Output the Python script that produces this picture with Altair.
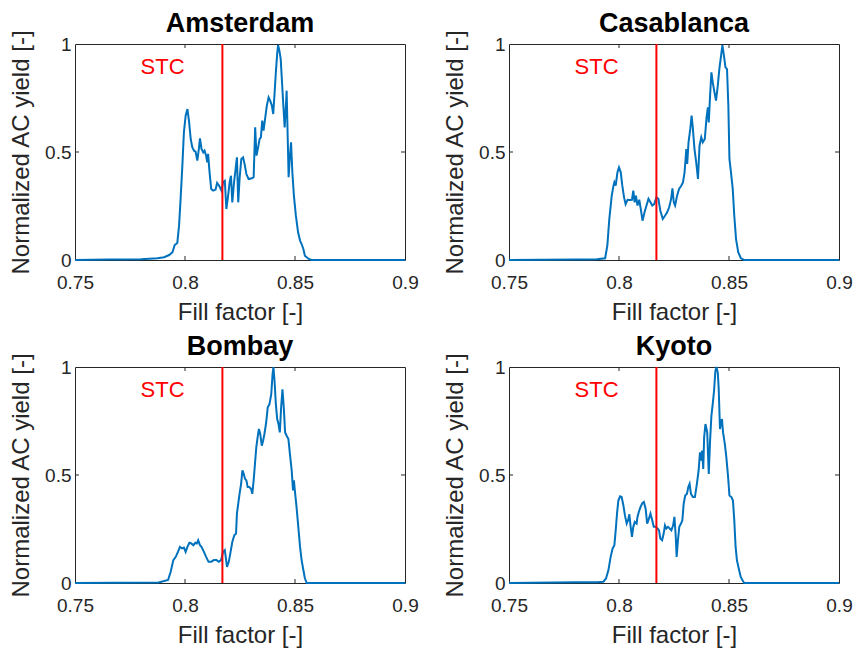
import altair as alt
import pandas as pd

cities = ["Amsterdam", "Casablanca", "Bombay", "Kyoto"]
stc_fill_factor = 0.817
x_ticks = [0.75, 0.8, 0.85, 0.9]
y_ticks = [0, 0.5, 1]
stc_label = "STC"

ams_x = [0.75, 0.765, 0.78, 0.7875, 0.7905, 0.7928, 0.7943, 0.7953, 0.7965, 0.7973, 0.7980, 0.7988, 0.7995,
         0.8003, 0.8011, 0.8018, 0.8026, 0.8033, 0.8041, 0.8048, 0.8056, 0.8063, 0.8068, 0.8075, 0.8083,
         0.8089, 0.8096, 0.8101, 0.8105, 0.8111, 0.8119, 0.8128, 0.8139, 0.8146, 0.8155, 0.8166, 0.8173,
         0.8181, 0.8188, 0.8196, 0.8203, 0.8209, 0.8215, 0.8223, 0.8230, 0.8236, 0.8242, 0.8248, 0.8256,
         0.8264, 0.8271, 0.8279, 0.8289, 0.8304, 0.8312, 0.8319, 0.8325, 0.8331, 0.8339, 0.8345, 0.8351,
         0.8357, 0.8364, 0.8372, 0.8380, 0.8387, 0.8395, 0.8401, 0.8407, 0.8413, 0.8419, 0.8423, 0.8429,
         0.8435, 0.8441, 0.8447, 0.8453, 0.8458, 0.8462, 0.8467, 0.8471, 0.8476, 0.8482, 0.8488, 0.8495,
         0.8504, 0.8514, 0.8523, 0.8530, 0.8538, 0.8545, 0.8553, 0.8563, 0.8575, 0.9]
ams_y = [0.0, 0.002, 0.004, 0.008, 0.013, 0.023, 0.036, 0.069, 0.079, 0.159, 0.283, 0.437, 0.591,
         0.668, 0.699, 0.645, 0.560, 0.522, 0.506, 0.502, 0.460, 0.514, 0.563, 0.514, 0.498,
         0.506, 0.483, 0.452, 0.491, 0.414, 0.329, 0.321, 0.326, 0.357, 0.344, 0.321, 0.360,
         0.367, 0.236, 0.298, 0.360, 0.390, 0.267, 0.360, 0.421, 0.475, 0.267, 0.375, 0.468,
         0.475, 0.444, 0.398, 0.375, 0.378, 0.383, 0.614, 0.483, 0.514, 0.560, 0.568, 0.645,
         0.599, 0.653, 0.715, 0.753, 0.738, 0.715, 0.676, 0.769, 0.869, 0.954, 0.995, 0.969,
         0.931, 0.823, 0.715, 0.614, 0.699, 0.784, 0.560, 0.383, 0.468, 0.545, 0.406, 0.298,
         0.205, 0.128, 0.090, 0.074, 0.051, 0.020, 0.013, 0.005, 0.0, 0.0]

cas_x = [0.75, 0.78, 0.79, 0.7937, 0.7947, 0.7956, 0.7967, 0.7975, 0.7979, 0.7985, 0.7993, 0.8000, 0.8008,
         0.8015, 0.8023, 0.8030, 0.8039, 0.8050, 0.8059, 0.8065, 0.8071, 0.8077, 0.8084, 0.8092, 0.8099,
         0.8107, 0.8116, 0.8125, 0.8134, 0.8143, 0.8151, 0.8160, 0.8170, 0.8179, 0.8188, 0.8199, 0.8209,
         0.8219, 0.8228, 0.8237, 0.8243, 0.8249, 0.8255, 0.8264, 0.8273, 0.8283, 0.8291, 0.8298, 0.8306,
         0.8310, 0.8316, 0.8324, 0.8330, 0.8336, 0.8343, 0.8351, 0.8359, 0.8366, 0.8374, 0.8381, 0.8390,
         0.8398, 0.8404, 0.8408, 0.8414, 0.8420, 0.8426, 0.8434, 0.8441, 0.8449, 0.8456, 0.8464, 0.8470,
         0.8477, 0.8484, 0.8491, 0.8497, 0.8502, 0.8509, 0.8517, 0.8524, 0.8532, 0.8542, 0.8554, 0.8569, 0.9]
cas_y = [0.0, 0.002, 0.003, 0.008, 0.067, 0.190, 0.298, 0.344, 0.360, 0.344, 0.406, 0.429, 0.406,
         0.344, 0.290, 0.259, 0.279, 0.278, 0.279, 0.321, 0.267, 0.298, 0.252, 0.279, 0.236,
         0.182, 0.221, 0.252, 0.283, 0.267, 0.252, 0.259, 0.290, 0.283, 0.228, 0.190, 0.205,
         0.221, 0.244, 0.283, 0.332, 0.267, 0.252, 0.298, 0.329, 0.344, 0.360, 0.406, 0.514,
         0.445, 0.545, 0.607, 0.668, 0.607, 0.514, 0.452, 0.375, 0.529, 0.568, 0.545, 0.560,
         0.660, 0.707, 0.637, 0.761, 0.869, 0.823, 0.776, 0.738, 0.807, 0.884, 0.946, 0.995,
         0.946, 0.892, 0.884, 0.715, 0.468, 0.406, 0.329, 0.205, 0.097, 0.036, 0.008, 0.0, 0.0]

bom_x = [0.75, 0.788, 0.7923, 0.7935, 0.7947, 0.7958, 0.7968, 0.7977, 0.7986, 0.7995, 0.8003, 0.8011,
         0.8020, 0.8029, 0.8038, 0.8047, 0.8054, 0.8060, 0.8068, 0.8075, 0.8086, 0.8096, 0.8107, 0.8119,
         0.8131, 0.8143, 0.8154, 0.8164, 0.8173, 0.8181, 0.8185, 0.8191, 0.8199, 0.8206, 0.8215, 0.8224,
         0.8232, 0.8236, 0.8242, 0.8248, 0.8255, 0.8261, 0.8267, 0.8273, 0.8279, 0.8285, 0.8292, 0.8300,
         0.8306, 0.8312, 0.8318, 0.8324, 0.8330, 0.8336, 0.8342, 0.8349, 0.8355, 0.8361, 0.8369, 0.8376,
         0.8384, 0.8392, 0.8398, 0.8402, 0.8407, 0.8413, 0.8419, 0.8425, 0.8431, 0.8437, 0.8443, 0.8449,
         0.8455, 0.8462, 0.8470, 0.8477, 0.8485, 0.8491, 0.8495, 0.8500, 0.8507, 0.8515, 0.8523, 0.8530,
         0.8538, 0.8545, 0.8553, 0.9]
bom_y = [0.0, 0.002, 0.014, 0.052, 0.106, 0.121, 0.144, 0.167, 0.160, 0.164, 0.144, 0.167,
         0.186, 0.183, 0.175, 0.186, 0.183, 0.198, 0.175, 0.167, 0.144, 0.121, 0.098, 0.098,
         0.106, 0.106, 0.098, 0.106, 0.144, 0.152, 0.121, 0.075, 0.098, 0.137, 0.190, 0.221,
         0.229, 0.321, 0.367, 0.413, 0.459, 0.521, 0.505, 0.482, 0.475, 0.444, 0.444, 0.436,
         0.413, 0.475, 0.551, 0.628, 0.674, 0.713, 0.690, 0.636, 0.659, 0.690, 0.743, 0.813,
         0.828, 0.874, 0.966, 1.0, 0.935, 0.828, 0.759, 0.736, 0.697, 0.813, 0.897, 0.813,
         0.697, 0.682, 0.667, 0.597, 0.521, 0.429, 0.475, 0.421, 0.352, 0.260, 0.167, 0.106,
         0.060, 0.022, 0.0, 0.0]

kyo_x = [0.75, 0.78, 0.79, 0.7929, 0.7941, 0.7952, 0.7962, 0.7971, 0.7979, 0.7985, 0.7991, 0.7997, 0.8005,
         0.8012, 0.8020, 0.8027, 0.8035, 0.8042, 0.8047, 0.8053, 0.8059, 0.8065, 0.8072, 0.8080, 0.8084,
         0.8090, 0.8098, 0.8106, 0.8113, 0.8121, 0.8128, 0.8136, 0.8143, 0.8151, 0.8158, 0.8167, 0.8176,
         0.8182, 0.8188, 0.8196, 0.8203, 0.8209, 0.8215, 0.8223, 0.8231, 0.8238, 0.8246, 0.8252, 0.8258,
         0.8262, 0.8268, 0.8274, 0.8282, 0.8288, 0.8294, 0.8301, 0.8309, 0.8315, 0.8321, 0.8327, 0.8336,
         0.8345, 0.8354, 0.8362, 0.8368, 0.8372, 0.8378, 0.8383, 0.8387, 0.8393, 0.8401, 0.8408, 0.8414,
         0.8420, 0.8426, 0.8432, 0.8438, 0.8443, 0.8449, 0.8453, 0.8459, 0.8464, 0.8468, 0.8473, 0.8481,
         0.8488, 0.8496, 0.8502, 0.8511, 0.8518, 0.8524, 0.8530, 0.8536, 0.8544, 0.8553, 0.8562, 0.8569, 0.9]
kyo_y = [0.0, 0.003, 0.004, 0.006, 0.021, 0.060, 0.121, 0.160, 0.175, 0.244, 0.321, 0.382, 0.401,
         0.398, 0.359, 0.313, 0.275, 0.293, 0.318, 0.260, 0.214, 0.260, 0.283, 0.275, 0.306,
         0.329, 0.352, 0.370, 0.375, 0.344, 0.275, 0.298, 0.321, 0.290, 0.260, 0.260, 0.252,
         0.244, 0.206, 0.198, 0.229, 0.267, 0.252, 0.260, 0.252, 0.244, 0.267, 0.306, 0.214,
         0.121, 0.198, 0.260, 0.275, 0.290, 0.367, 0.405, 0.413, 0.444, 0.459, 0.413, 0.398,
         0.398, 0.459, 0.521, 0.605, 0.567, 0.613, 0.528, 0.674, 0.736, 0.697, 0.505, 0.659,
         0.774, 0.828, 0.889, 0.981, 1.0, 0.974, 0.905, 0.713, 0.743, 0.759, 0.697, 0.644,
         0.582, 0.490, 0.405, 0.398, 0.382, 0.290, 0.167, 0.106, 0.068, 0.029, 0.011, 0.0, 0.0]

series = {
    "Amsterdam": (ams_x, ams_y),
    "Casablanca": (cas_x, cas_y),
    "Bombay": (bom_x, bom_y),
    "Kyoto": (kyo_x, kyo_y),
}

W, H = 330, 216
FONT = "Liberation Sans"
AX = "#262626"


def panel(name):
    xs, ys = series[name]
    df = pd.DataFrame({"x": xs, "y": ys})
    xsc = alt.Scale(domain=[0.75, 0.9], nice=False, zero=False)
    ysc = alt.Scale(domain=[0, 1], nice=False, zero=False)
    line = alt.Chart(df).mark_line(color="#0072BD", strokeWidth=2).encode(
        x=alt.X("x:Q", scale=xsc,
                axis=alt.Axis(title="Fill factor [-]", values=x_ticks, format="~g",
                              labelFlush=False, labelPadding=13, titlePadding=8)),
        y=alt.Y("y:Q", scale=ysc,
                axis=alt.Axis(title="Normalized AC yield [-]", values=y_ticks, format="~g",
                              labelFlush=False, labelPadding=4, titlePadding=11)),
    )
    rule = alt.Chart(pd.DataFrame({"x": [stc_fill_factor]})).mark_rule(
        color="#FF0000", strokeWidth=2).encode(x=alt.X("x:Q", scale=xsc))
    txt = alt.Chart(pd.DataFrame({"x": [0.7898], "y": [0.895], "t": [stc_label]})).mark_text(
        color="#FF0000", fontSize=22, font=FONT).encode(
        x=alt.X("x:Q", scale=xsc), y=alt.Y("y:Q", scale=ysc), text="t:N")
    xt = pd.DataFrame({"x": [0.8, 0.85]})
    yt = pd.DataFrame({"y": [0.5]})
    tb = alt.Chart(xt).mark_rule(color=AX, strokeWidth=1).encode(
        x=alt.X("x:Q", scale=xsc), y=alt.value(H), y2=alt.value(H - 4))
    tt = alt.Chart(xt).mark_rule(color=AX, strokeWidth=1).encode(
        x=alt.X("x:Q", scale=xsc), y=alt.value(0), y2=alt.value(4))
    tl = alt.Chart(yt).mark_rule(color=AX, strokeWidth=1).encode(
        y=alt.Y("y:Q", scale=ysc), x=alt.value(0), x2=alt.value(4))
    tr = alt.Chart(yt).mark_rule(color=AX, strokeWidth=1).encode(
        y=alt.Y("y:Q", scale=ysc), x=alt.value(W), x2=alt.value(W - 4))
    return alt.layer(line, rule, txt, tb, tt, tl, tr).properties(
        width=W, height=H,
        title=alt.TitleParams(name, fontSize=27, fontWeight="bold", font=FONT,
                              color="black", offset=-9, frame="group"))


chart = alt.concat(
    *[panel(c) for c in cities], columns=2,
    spacing={"row": 107, "column": 104}, bounds="flush"
).properties(
    padding={"left": 1, "top": 1, "right": 0, "bottom": 0}
).configure_view(
    stroke=AX, strokeWidth=1
).configure_axis(
    labelFont=FONT, labelFontSize=19, labelColor=AX,
    titleFont=FONT, titleFontSize=24, titleFontWeight="normal", titleColor=AX,
    domain=False, ticks=False, grid=False
)

chart.save("out.html", embed_options={"renderer": "svg", "actions": False})
